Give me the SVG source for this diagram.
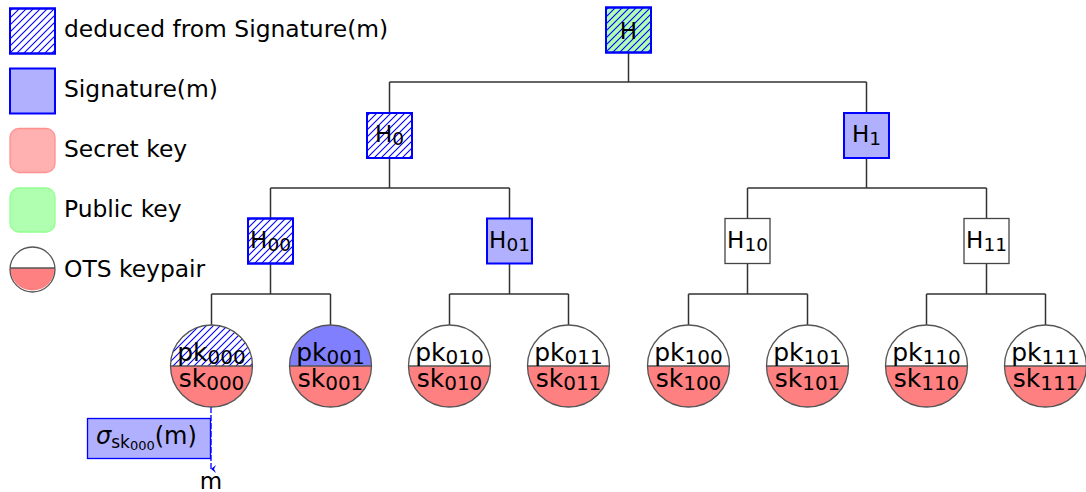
<svg xmlns="http://www.w3.org/2000/svg" width="1086" height="492" viewBox="0 0 1086 492">
  <style>
    text { font-family: "DejaVu Sans", "Liberation Sans", sans-serif; fill: #000; }
    .lbl { font-size: 23.4px; }
    .hl { font-size: 23px; text-anchor: middle; }
    .hs { font-size: 18.5px; }
    .kl { font-size: 25px; text-anchor: middle; }
    .ks { font-size: 20px; }
    .edge { stroke: #333; stroke-width: 1.5; fill: none; }
    .hbox { stroke: #0000ff; stroke-width: 2; }
    .plain { fill: #fff; stroke: #444; stroke-width: 1.3; }
    .sig { fill: #b0b0ff; }
    .ring { fill: none; stroke: #555; stroke-width: 1.3; }
    .sk { fill: #ff8080; }
  </style>
  <defs>
    <pattern id="hatch" patternUnits="userSpaceOnUse" width="7" height="7">
      <path d="M0,7 L7,0 M-1,1 L1,-1 M6,8 L8,6" stroke="#0000ff" stroke-width="1.1"/>
    </pattern>
    <clipPath id="topHalf000">
      <rect x="160" y="320" width="102" height="46"/>
    </clipPath>
    <marker id="arrow" markerWidth="8" markerHeight="8" refX="4" refY="6" orient="auto-start-reverse" markerUnits="userSpaceOnUse" viewBox="0 0 8 8">
      <path d="M0,1 L4,6 L8,1 L4,3 Z" fill="#0000ff"/>
    </marker>
  </defs>

  <!-- legend -->
  <g id="legend">
    <rect x="10" y="8.5" width="45" height="45" fill="#fff" class="hbox"/>
    <rect x="10" y="8.5" width="45" height="45" fill="url(#hatch)" class="hbox"/>
    <text class="lbl" x="64" y="37">deduced from Signature(m)</text>
    <rect x="10" y="68.5" width="45" height="45" class="hbox sig"/>
    <text class="lbl" x="64" y="97">Signature(m)</text>
    <rect x="10" y="128.5" width="45" height="44" rx="9" fill="#ffb0b0" stroke="#ff9090" stroke-width="1.3"/>
    <text class="lbl" x="64" y="157">Secret key</text>
    <rect x="10" y="188" width="45" height="44" rx="9" fill="#b0ffb0" stroke="#90ff90" stroke-width="1.3"/>
    <text class="lbl" x="64" y="217">Public key</text>
    <path d="M10,268 A22.5,22.5 0 0 0 55,268 Z" class="sk"/>
    <circle cx="32.5" cy="269.5" r="22.5" class="ring"/>
    <line x1="10" y1="268" x2="55" y2="268" stroke="#555" stroke-width="1.3"/>
    <text class="lbl" x="64" y="277">OTS keypair</text>
  </g>

  <!-- tree connectors -->
  <g id="connectors">
    <path class="edge" d="M628.5,53 V82 M389.5,82 H866.5 M389.5,82 V113 M866.5,82 V113"/>
    <path class="edge" d="M389.5,158 V188 M270.5,188 H509.5 M270.5,188 V218 M509.5,188 V218"/>
    <path class="edge" d="M866.5,158 V188 M747.5,188 H986.5 M747.5,188 V218 M986.5,188 V218"/>
    <path class="edge" d="M270.5,264 V294 M211.5,294 H330.5 M211.5,294 V325 M330.5,294 V325"/>
    <path class="edge" d="M509.5,264 V294 M449.5,294 H568.5 M449.5,294 V325 M568.5,294 V325"/>
    <path class="edge" d="M747.5,264 V294 M688.5,294 H807.5 M688.5,294 V325 M807.5,294 V325"/>
    <path class="edge" d="M986.5,264 V294 M926.5,294 H1045.5 M926.5,294 V325 M1045.5,294 V325"/>
    <line x1="211" y1="407" x2="211" y2="469" stroke="#0000ff" stroke-width="1.3" stroke-dasharray="6,2" marker-end="url(#arrow)"/>
  </g>

  <!-- hash nodes -->
  <g id="node-H">
    <rect x="606" y="7.5" width="45" height="45" fill="#b0ffb0" class="hbox"/>
    <rect x="606" y="7.5" width="45" height="45" fill="url(#hatch)" class="hbox"/>
    <text class="hl" x="628.5" y="38.5">H</text>
  </g>
  <g id="node-H0">
    <rect x="367" y="113" width="45" height="45" fill="#fff" class="hbox"/>
    <rect x="367" y="113" width="45" height="45" fill="url(#hatch)" class="hbox"/>
    <text class="hl" x="389.5" y="142">H<tspan class="hs" dy="3">0</tspan></text>
  </g>
  <g id="node-H1">
    <rect x="844" y="113" width="45" height="45" class="hbox sig"/>
    <text class="hl" x="866.5" y="142">H<tspan class="hs" dy="3">1</tspan></text>
  </g>
  <g id="node-H00">
    <rect x="248" y="218.5" width="45" height="45" fill="#fff" class="hbox"/>
    <rect x="248" y="218.5" width="45" height="45" fill="url(#hatch)" class="hbox"/>
    <text class="hl" x="270.5" y="248">H<tspan class="hs" dy="3">00</tspan></text>
  </g>
  <g id="node-H01">
    <rect x="487" y="218.5" width="45" height="45" class="hbox sig"/>
    <text class="hl" x="509.5" y="248">H<tspan class="hs" dy="3">01</tspan></text>
  </g>
  <g id="node-H10">
    <rect x="725" y="218.5" width="45" height="45" class="plain"/>
    <text class="hl" x="747.5" y="248">H<tspan class="hs" dy="3">10</tspan></text>
  </g>
  <g id="node-H11">
    <rect x="964" y="218.5" width="45" height="45" class="plain"/>
    <text class="hl" x="986.5" y="248">H<tspan class="hs" dy="3">11</tspan></text>
  </g>

  <!-- OTS keypair leaves -->
  <g id="leaf-000">
    <path d="M170.5,366 A41,41 0 0 0 252.5,366 Z" class="sk"/>
    <circle cx="211.5" cy="366" r="41" fill="url(#hatch)" clip-path="url(#topHalf000)"/>
    <circle cx="211.5" cy="366" r="41" class="ring"/>
    <line x1="170.5" y1="366" x2="252.5" y2="366" stroke="#555" stroke-width="1.3"/>
    <text class="kl" x="211.5" y="361">pk<tspan class="ks" dy="2.5">000</tspan></text>
    <text class="kl" x="211.5" y="387">sk<tspan class="ks" dy="2.5">000</tspan></text>
  </g>
  <g id="leaf-001">
    <path d="M289.5,366 A41,41 0 0 1 371.5,366 Z" fill="#8080ff"/>
    <path d="M289.5,366 A41,41 0 0 0 371.5,366 Z" class="sk"/>
    <circle cx="330.5" cy="366" r="41" class="ring"/>
    <line x1="289.5" y1="366" x2="371.5" y2="366" stroke="#555" stroke-width="1.3"/>
    <text class="kl" x="330.5" y="361">pk<tspan class="ks" dy="2.5">001</tspan></text>
    <text class="kl" x="330.5" y="387">sk<tspan class="ks" dy="2.5">001</tspan></text>
  </g>
  <g id="leaf-010">
    <path d="M408.5,366 A41,41 0 0 0 490.5,366 Z" class="sk"/>
    <circle cx="449.5" cy="366" r="41" class="ring"/>
    <line x1="408.5" y1="366" x2="490.5" y2="366" stroke="#555" stroke-width="1.3"/>
    <text class="kl" x="449.5" y="361">pk<tspan class="ks" dy="2.5">010</tspan></text>
    <text class="kl" x="449.5" y="387">sk<tspan class="ks" dy="2.5">010</tspan></text>
  </g>
  <g id="leaf-011">
    <path d="M527.5,366 A41,41 0 0 0 609.5,366 Z" class="sk"/>
    <circle cx="568.5" cy="366" r="41" class="ring"/>
    <line x1="527.5" y1="366" x2="609.5" y2="366" stroke="#555" stroke-width="1.3"/>
    <text class="kl" x="568.5" y="361">pk<tspan class="ks" dy="2.5">011</tspan></text>
    <text class="kl" x="568.5" y="387">sk<tspan class="ks" dy="2.5">011</tspan></text>
  </g>
  <g id="leaf-100">
    <path d="M647.5,366 A41,41 0 0 0 729.5,366 Z" class="sk"/>
    <circle cx="688.5" cy="366" r="41" class="ring"/>
    <line x1="647.5" y1="366" x2="729.5" y2="366" stroke="#555" stroke-width="1.3"/>
    <text class="kl" x="688.5" y="361">pk<tspan class="ks" dy="2.5">100</tspan></text>
    <text class="kl" x="688.5" y="387">sk<tspan class="ks" dy="2.5">100</tspan></text>
  </g>
  <g id="leaf-101">
    <path d="M766.5,366 A41,41 0 0 0 848.5,366 Z" class="sk"/>
    <circle cx="807.5" cy="366" r="41" class="ring"/>
    <line x1="766.5" y1="366" x2="848.5" y2="366" stroke="#555" stroke-width="1.3"/>
    <text class="kl" x="807.5" y="361">pk<tspan class="ks" dy="2.5">101</tspan></text>
    <text class="kl" x="807.5" y="387">sk<tspan class="ks" dy="2.5">101</tspan></text>
  </g>
  <g id="leaf-110">
    <path d="M885.5,366 A41,41 0 0 0 967.5,366 Z" class="sk"/>
    <circle cx="926.5" cy="366" r="41" class="ring"/>
    <line x1="885.5" y1="366" x2="967.5" y2="366" stroke="#555" stroke-width="1.3"/>
    <text class="kl" x="926.5" y="361">pk<tspan class="ks" dy="2.5">110</tspan></text>
    <text class="kl" x="926.5" y="387">sk<tspan class="ks" dy="2.5">110</tspan></text>
  </g>
  <g id="leaf-111">
    <path d="M1004.5,366 A41,41 0 0 0 1086.5,366 Z" class="sk"/>
    <circle cx="1045.5" cy="366" r="41" class="ring"/>
    <line x1="1004.5" y1="366" x2="1086.5" y2="366" stroke="#555" stroke-width="1.3"/>
    <text class="kl" x="1045.5" y="361">pk<tspan class="ks" dy="2.5">111</tspan></text>
    <text class="kl" x="1045.5" y="387">sk<tspan class="ks" dy="2.5">111</tspan></text>
  </g>

  <!-- signature of m -->
  <g id="signature">
    <rect x="87.5" y="418.5" width="123" height="40" fill="#b0b0ff" stroke="#0000ff" stroke-width="1.3"/>
    <text x="96" y="444" font-size="24"><tspan font-style="italic">σ</tspan><tspan font-size="17" dy="4">sk</tspan><tspan font-size="13" dy="2">000</tspan><tspan dy="-6">(m)</tspan></text>
  </g>
  <g id="message">
    <text x="211" y="489" font-size="23" text-anchor="middle">m</text>
  </g>
</svg>
